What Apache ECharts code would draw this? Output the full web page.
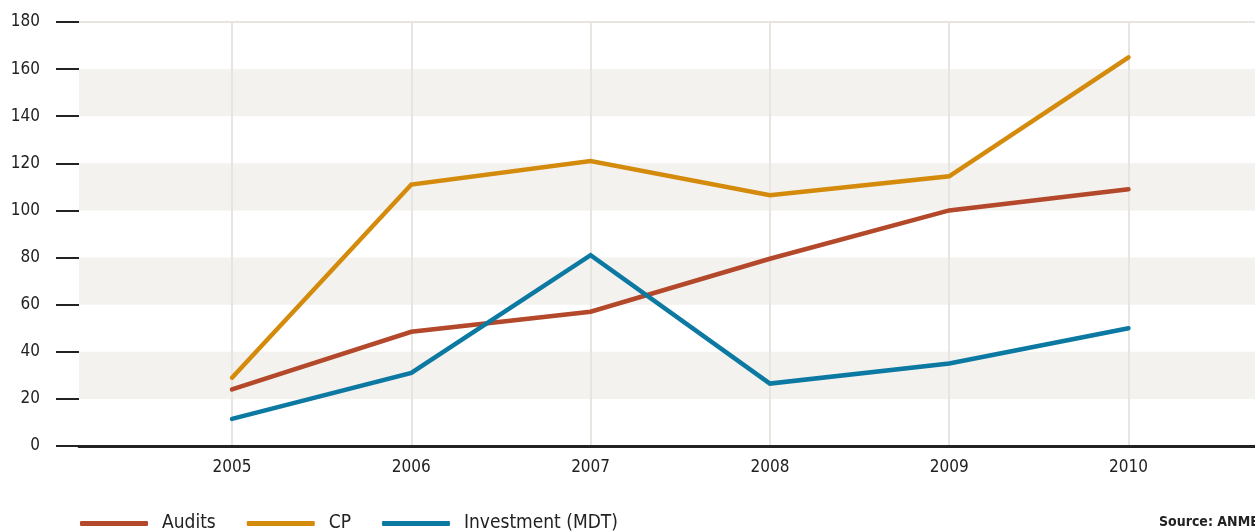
<!DOCTYPE html>
<html><head><meta charset="utf-8">
<script src="https://cdn.jsdelivr.net/npm/echarts@6/dist/echarts.min.js"></script>
<style>html,body{margin:0;padding:0;background:#fff}#c{width:1255px;height:532px}</style>
</head><body><div id="c"></div>
<script>
const years = [2005, 2006, 2007, 2008, 2009, 2010];
const audits = [24, 48.5, 57, 79.5, 100, 109];
const cp = [29, 111, 121, 106.5, 114.5, 165];
const investment = [11.5, 31, 81, 26.5, 35, 50];
const seriesNames = ['Audits', 'CP', 'Investment (MDT)'];
const yTicks = {min: 0, max: 180, step: 20};
const sourceText = 'Source: ANME';

const FONT = "'DejaVu Sans Condensed','Liberation Sans Narrow',sans-serif";
const colors = ['#b3482a', '#d48a0b', '#0b79a1'];
const pairs = arr => years.map((y, i) => [y, arr[i]]);
const nLines = (yTicks.max - yTicks.min) / yTicks.step + 1;
const splitColors = Array.from({length: nLines}, (_, i) => i === nLines - 1 ? '#e8e4df' : 'rgba(0,0,0,0)');

// x scale: one year = 179.3px, 2004 at x=52.7; visible up to 1255px
const gridBLeft = 52.7, yearPx = 179.3, W = 1255;
const xMax = (years[0] - 1) + (W - gridBLeft) / yearPx;

const chart = echarts.init(document.getElementById('c'), null, {renderer: 'canvas'});
chart.setOption({
  animation: false,
  textStyle: {fontFamily: FONT},
  grid: [
    {left: 79, right: 0, top: 22, bottom: 86},
    {left: gridBLeft, right: 0, top: 22, bottom: 86}
  ],
  xAxis: [
    {gridIndex: 0, type: 'value', min: 0, max: 1, axisLabel: {show: false}, axisTick: {show: false},
     splitLine: {show: false}, axisLine: {show: true, lineStyle: {color: '#222', width: 3}}, z: 3},
    {gridIndex: 1, type: 'value', min: years[0] - 1, max: xMax, interval: 1, z: 1,
     axisLine: {show: false}, axisTick: {show: false},
     axisLabel: {show: true, showMinLabel: false, showMaxLabel: false, margin: 13, color: '#222', fontSize: 17, fontFamily: FONT,
       formatter: v => String(v)},
     splitLine: {show: true, showMinLine: false, showMaxLine: false, lineStyle: {color: '#e8e4df', width: 2}}}
  ],
  yAxis: [
    {gridIndex: 0, type: 'value', min: yTicks.min, max: yTicks.max, interval: yTicks.step, z: 0,
     axisLine: {show: false},
     axisTick: {show: true, length: 23, lineStyle: {color: '#222', width: 2}},
     axisLabel: {margin: 39, color: '#222', fontSize: 17, fontFamily: FONT},
     splitLine: {show: true, lineStyle: {color: splitColors, width: 2}},
     splitArea: {show: true, areaStyle: {color: ['rgba(0,0,0,0)', '#f3f2ef']}}},
    {gridIndex: 1, type: 'value', min: yTicks.min, max: yTicks.max, interval: yTicks.step, show: false}
  ],
  legend: {
    left: 75, top: 509, itemWidth: 68, itemHeight: 5, itemGap: 31, icon: 'roundRect',
    textStyle: {color: '#222', fontSize: 19, fontFamily: FONT, padding: [0, 0, 0, 9]},
    data: seriesNames
  },
  graphic: [{type: 'text', left: 1159, top: 515, style: {text: sourceText, fill: '#222', font: 'bold 14px ' + FONT}}],
  series: [audits, cp, investment].map((d, i) => ({
    name: seriesNames[i], type: 'line', xAxisIndex: 1, yAxisIndex: 1, data: pairs(d),
    symbol: 'none', color: colors[i], z: 5 + i,
    lineStyle: {width: 4.5, color: colors[i], cap: 'round', join: 'miter'}
  }))
});
</script></body></html>
